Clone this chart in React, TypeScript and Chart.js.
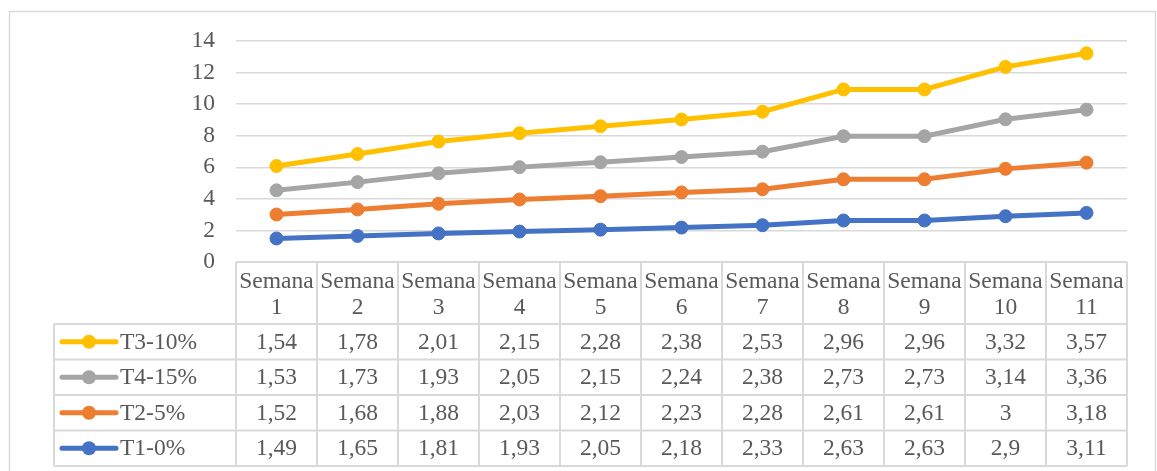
import React, { useEffect, useRef } from 'react';
import { Chart, registerables } from 'chart.js';
Chart.register(...registerables);

const categories = ['Semana 1', 'Semana 2', 'Semana 3', 'Semana 4', 'Semana 5', 'Semana 6', 'Semana 7', 'Semana 8', 'Semana 9', 'Semana 10', 'Semana 11'];
const t1 = [1.49, 1.65, 1.81, 1.93, 2.05, 2.18, 2.33, 2.63, 2.63, 2.9, 3.11];
const t2 = [1.52, 1.68, 1.88, 2.03, 2.12, 2.23, 2.28, 2.61, 2.61, 3, 3.18];
const t4 = [1.53, 1.73, 1.93, 2.05, 2.15, 2.24, 2.38, 2.73, 2.73, 3.14, 3.36];
const t3 = [1.54, 1.78, 2.01, 2.15, 2.28, 2.38, 2.53, 2.96, 2.96, 3.32, 3.57];
const seriesNames = ['T1-0%', 'T2-5%', 'T4-15%', 'T3-10%'];
const seriesColors = ['#4472C4', '#ED7D31', '#A5A5A5', '#FFC000'];
const seriesData = [t1, t2, t4, t3];
const tableOrder = [3, 2, 1, 0];
const yMax = 14;
const yStep = 2;

const W = 1157;
const H = 471;
const FAMILY = '"Liberation Serif", "Times New Roman", serif';
const FONT = '23.5px ' + FAMILY;
const TEXT = '#595959';
const GRID = '#d9d9d9';

const fmt = (v: number) => String(v).replace('.', ',');

const tablePlugin = {
  id: 'dataTable',
  beforeDraw(chart: any) {
    const ctx = chart.ctx;
    ctx.save();
    ctx.strokeStyle = GRID;
    ctx.lineWidth = 1.5;
    ctx.strokeRect(9.5, 11.5, 1146, 470);
    ctx.restore();
  },
  afterDraw(chart: any) {
    const ctx = chart.ctx;
    const area = chart.chartArea;
    const xs = chart.scales.x;
    const n = categories.length;
    const colW = (area.right - area.left) / n;
    const headerTop = area.bottom;
    const headerBottom = 324;
    const rowH = 35.5;
    const legendLeft = 54;
    const tableBottom = headerBottom + rowH * tableOrder.length;

    ctx.save();
    ctx.strokeStyle = GRID;
    ctx.lineWidth = 2;
    ctx.beginPath();
    ctx.moveTo(area.left, headerTop);
    ctx.lineTo(area.right, headerTop);
    for (let r = 0; r <= tableOrder.length; r++) {
      const y = headerBottom + r * rowH;
      ctx.moveTo(legendLeft, y);
      ctx.lineTo(area.right, y);
    }
    for (let i = 0; i <= n; i++) {
      const x = area.left + i * colW;
      ctx.moveTo(x, headerTop);
      ctx.lineTo(x, tableBottom);
    }
    ctx.moveTo(legendLeft, headerBottom);
    ctx.lineTo(legendLeft, tableBottom);
    ctx.stroke();

    ctx.font = FONT;
    ctx.fillStyle = TEXT;
    ctx.textAlign = 'center';
    ctx.textBaseline = 'middle';
    categories.forEach((c, i) => {
      const x = xs.getPixelForValue(i);
      const parts = c.split(' ');
      ctx.fillText(parts[0], x, 282);
      ctx.fillText(parts[1], x, 308);
    });

    tableOrder.forEach((s, r) => {
      const yc = headerBottom + r * rowH + rowH / 2 + 1;
      ctx.textAlign = 'center';
      ctx.fillStyle = TEXT;
      seriesData[s].forEach((v, i) => {
        ctx.fillText(fmt(v), xs.getPixelForValue(i), yc);
      });
      ctx.strokeStyle = seriesColors[s];
      ctx.lineWidth = 5;
      ctx.lineCap = 'round';
      ctx.beginPath();
      ctx.moveTo(62, yc - 1);
      ctx.lineTo(116, yc - 1);
      ctx.stroke();
      ctx.fillStyle = seriesColors[s];
      ctx.beginPath();
      ctx.arc(89, yc - 1, 7, 0, Math.PI * 2);
      ctx.fill();
      ctx.fillStyle = TEXT;
      ctx.textAlign = 'left';
      ctx.fillText(seriesNames[s], 120, yc);
    });
    ctx.restore();
  },
};

export default function App() {
  const ref = useRef<HTMLCanvasElement>(null);
  useEffect(() => {
    if (!ref.current) return;
    const chart = new Chart(ref.current, {
      type: 'line',
      data: {
        labels: categories,
        datasets: seriesData.map((d, k) => ({
          label: seriesNames[k],
          data: d,
          borderColor: seriesColors[k],
          backgroundColor: seriesColors[k],
          pointBackgroundColor: seriesColors[k],
          pointBorderColor: seriesColors[k],
          borderWidth: 5,
          pointRadius: 6.5,
          pointBorderWidth: 1,
          fill: false,
          tension: 0,
        })),
      },
      options: {
        responsive: false,
        animation: false,
        layout: { padding: { left: 0, right: 30, top: 41, bottom: 209 } },
        plugins: { legend: { display: false }, tooltip: { enabled: false } },
        scales: {
          x: {
            type: 'category',
            offset: true,
            display: false,
          },
          y: {
            stacked: true,
            min: 0,
            max: yMax,
            border: { display: false },
            grid: { color: GRID, lineWidth: 1.5, drawTicks: false },
            ticks: {
              stepSize: yStep,
              padding: 21,
              color: TEXT,
              font: { family: FAMILY, size: 23.5 },
            },
            afterFit: (s: any) => {
              s.width = 236;
            },
          },
        },
      },
      plugins: [tablePlugin],
    });
    return () => chart.destroy();
  }, []);
  return (
    <div style={{ position: 'fixed', left: 0, top: 0, width: W, height: H, background: '#fff' }}>
      <canvas ref={ref} width={W} height={H} style={{ display: 'block' }} />
    </div>
  );
}
